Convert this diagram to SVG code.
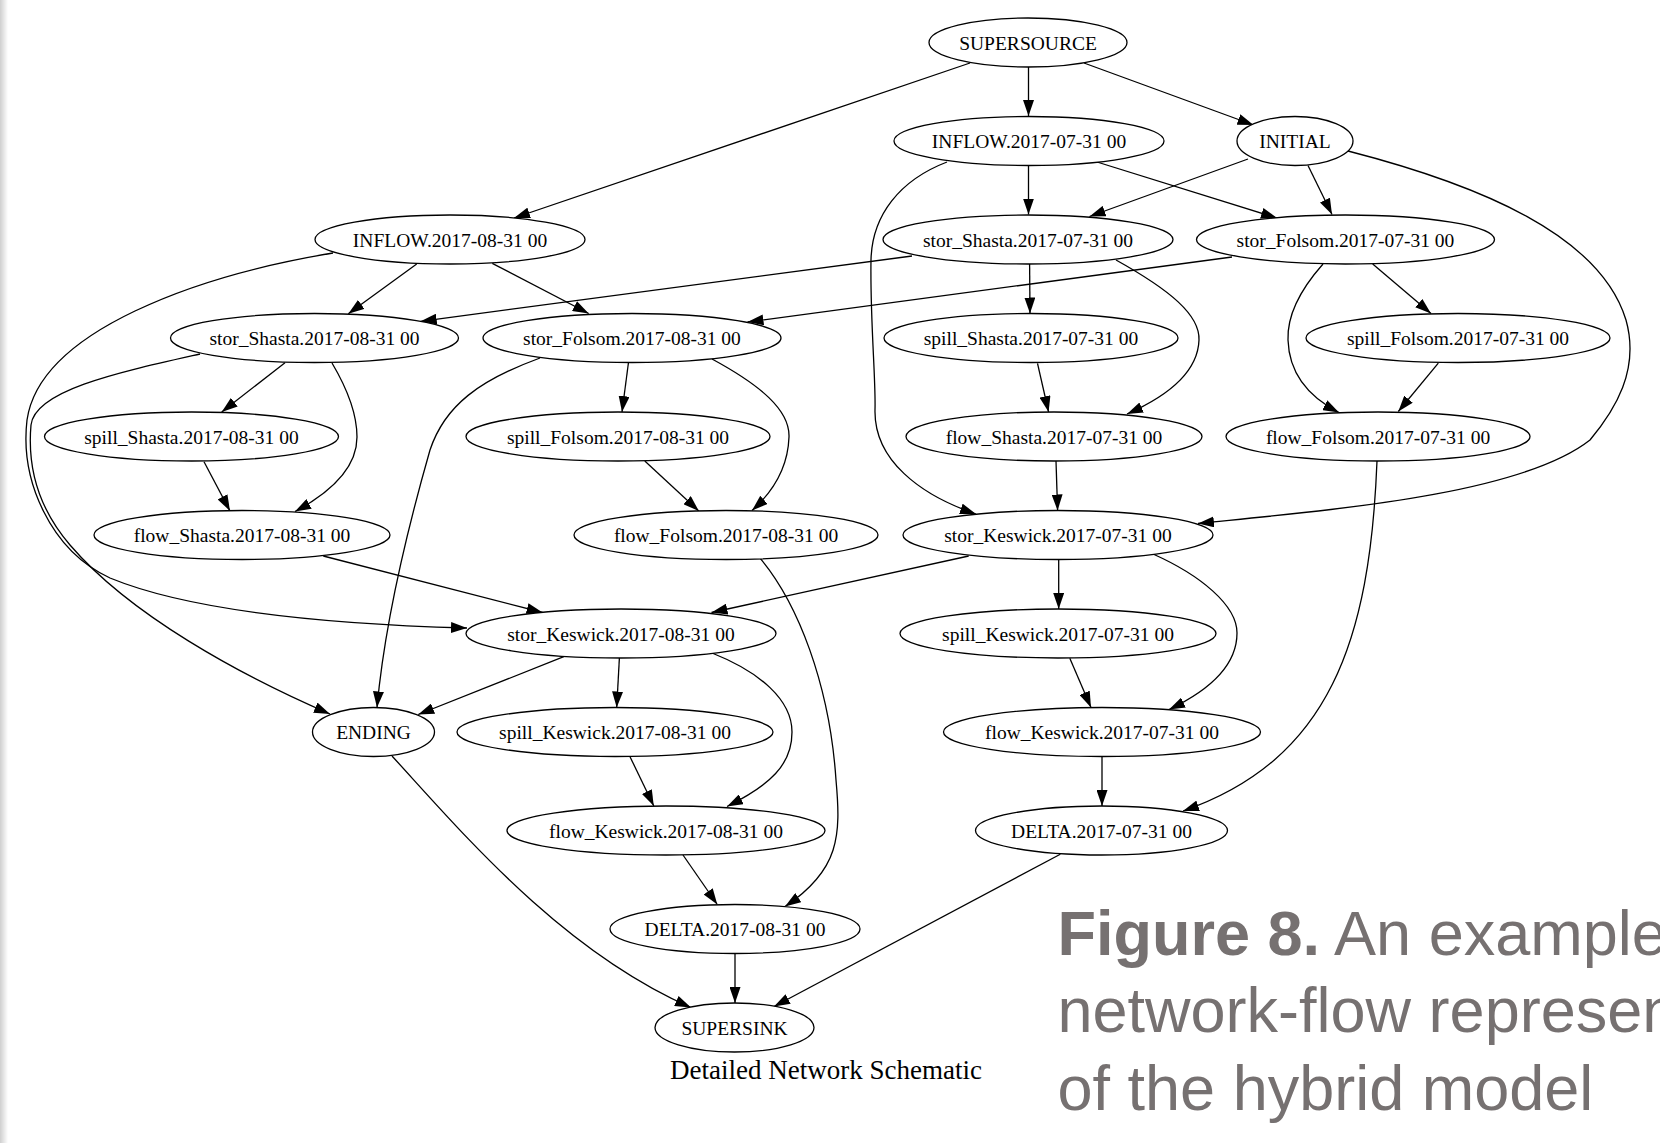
<svg xmlns="http://www.w3.org/2000/svg" width="1660" height="1143" viewBox="0 0 1660 1143">
<defs>
<style>
.n ellipse{fill:#fff;stroke:#000;stroke-width:1.3}
.n text{font-family:"Liberation Serif","Times New Roman",serif;font-size:19.5px;text-anchor:middle;fill:#000}
.e path{fill:none;stroke:#000;stroke-width:1.3;marker-end:url(#ah)}
.cap{font-family:"Liberation Sans",Arial,sans-serif;font-size:63px;fill:#767171}
</style>
<marker id="ah" markerUnits="userSpaceOnUse" markerWidth="16" markerHeight="11" viewBox="0 0 16 11" refX="16" refY="5.5" orient="auto"><path d="M0,0 L16,5.5 L0,11 z" fill="#000"/></marker>
<linearGradient id="sh" x1="0" y1="0" x2="1" y2="0"><stop offset="0" stop-color="#cfcfcf"/><stop offset="1" stop-color="#ffffff"/></linearGradient>
</defs>
<rect width="1660" height="1143" fill="#fff"/>
<rect x="0" y="0" width="8" height="1143" fill="url(#sh)"/>

<g id="connectors" class="e">
<path d="M970,63 L514,218"/>
<path d="M1028.5,67 L1028.5,116"/>
<path d="M1084,63 L1253.5,125"/>
<path d="M1028.5,165.5 L1028.5,214.5"/>
<path d="M1097,162 L1277,218"/>
<path d="M1248,159 L1089.5,216.5"/>
<path d="M1308,165.5 L1332,214.5"/>
<path d="M1348,151 C1480,185 1600,235 1626,320 C1640,370 1615,410 1590,440 C1520,495 1330,510 1198,523.5"/>
<path d="M947,162 C900,180 872,215 871,260 C870,320 876,380 875,410 C874,460 920,495 976,514"/>
<path d="M416.7,264 L348.3,313.8"/>
<path d="M492.3,263.3 L588.7,313.5"/>
<path d="M333,253 C200,275 40,330 27,420 C20,480 50,550 110,578 C200,615 360,625 467,628"/>
<path d="M912,256 L420.7,321.3"/>
<path d="M1029.6,264 L1030,313.5"/>
<path d="M1116,260 C1170,290 1200,315 1199,340 C1198,370 1170,395 1127,414"/>
<path d="M1232,257 L747.5,322"/>
<path d="M1372.7,264 L1431,313.5"/>
<path d="M1323,264 C1300,290 1287,315 1288,340 C1289,370 1305,395 1339,412.5"/>
<path d="M1037.5,363.3 L1048.6,412"/>
<path d="M1438.3,363.2 L1398.3,411.5"/>
<path d="M1056,461 L1057.6,510.5"/>
<path d="M1377,461 C1370,640 1330,760 1183,811"/>
<path d="M968.7,556 L711.5,612.5"/>
<path d="M1058.7,560 L1058.7,609"/>
<path d="M1153,554 C1200,575 1237,605 1237,633 C1237,665 1210,690 1169,709.5"/>
<path d="M1069.8,658.3 L1091,707.5"/>
<path d="M1102,756.5 L1102,806"/>
<path d="M1060.3,854.3 L774,1006.5"/>
<path d="M285,362.7 L221.7,412"/>
<path d="M332,363 C348,390 357,415 357,437 C357,465 335,490 295,511.5"/>
<path d="M200,354 C120,372 35,390 31,425 C27,470 40,510 70,545 C130,615 240,675 330,714"/>
<path d="M628.4,363 L622,412"/>
<path d="M712,359 C760,385 790,410 789,437 C788,465 775,490 752,510.5"/>
<path d="M540,358 C480,380 445,405 430,450 C410,520 385,620 377,707.5"/>
<path d="M204,461.7 L230,511"/>
<path d="M644.8,461 L698.8,511"/>
<path d="M752,549 C800,600 830,690 836,780 C841,835 840,870 785,906.5"/>
<path d="M323.3,556 L542.6,612.5"/>
<path d="M563.8,656.7 L418.2,714.5"/>
<path d="M619.4,657.7 L616.7,707.5"/>
<path d="M712,653 C760,672 792,700 792,732 C792,765 770,785 727,806.5"/>
<path d="M630,756.7 L653.8,806"/>
<path d="M683,855 L717.3,904.5"/>
<path d="M735,953.5 L735,1003"/>
<path d="M392,756 C460,830 560,950 691,1007.5"/>
</g>

<g id="SUPERSOURCE" class="n"><ellipse cx="1028" cy="42.5" rx="99" ry="24.5"/><text x="1028" y="49.5">SUPERSOURCE</text></g>
<g id="INFLOW_0731" class="n"><ellipse cx="1029" cy="141" rx="135" ry="24.5"/><text x="1029" y="148">INFLOW.2017-07-31 00</text></g>
<g id="INITIAL" class="n"><ellipse cx="1295" cy="141" rx="58" ry="24.5"/><text x="1295" y="148">INITIAL</text></g>
<g id="INFLOW_0831" class="n"><ellipse cx="450" cy="239.5" rx="135" ry="24.5"/><text x="450" y="246.5">INFLOW.2017-08-31 00</text></g>
<g id="stor_Shasta_0731" class="n"><ellipse cx="1028" cy="239.5" rx="145" ry="24.5"/><text x="1028" y="246.5">stor_Shasta.2017-07-31 00</text></g>
<g id="stor_Folsom_0731" class="n"><ellipse cx="1345.5" cy="239.5" rx="149" ry="24.5"/><text x="1345.5" y="246.5">stor_Folsom.2017-07-31 00</text></g>
<g id="stor_Shasta_0831" class="n"><ellipse cx="314.5" cy="338" rx="144" ry="24.5"/><text x="314.5" y="345">stor_Shasta.2017-08-31 00</text></g>
<g id="stor_Folsom_0831" class="n"><ellipse cx="632" cy="338" rx="149" ry="24.5"/><text x="632" y="345">stor_Folsom.2017-08-31 00</text></g>
<g id="spill_Shasta_0731" class="n"><ellipse cx="1031" cy="338" rx="147" ry="24.5"/><text x="1031" y="345">spill_Shasta.2017-07-31 00</text></g>
<g id="spill_Folsom_0731" class="n"><ellipse cx="1458" cy="338" rx="152" ry="24.5"/><text x="1458" y="345">spill_Folsom.2017-07-31 00</text></g>
<g id="spill_Shasta_0831" class="n"><ellipse cx="191.5" cy="436.5" rx="147" ry="24.5"/><text x="191.5" y="443.5">spill_Shasta.2017-08-31 00</text></g>
<g id="spill_Folsom_0831" class="n"><ellipse cx="618" cy="436.5" rx="152" ry="24.5"/><text x="618" y="443.5">spill_Folsom.2017-08-31 00</text></g>
<g id="flow_Shasta_0731" class="n"><ellipse cx="1054" cy="436.5" rx="148" ry="24.5"/><text x="1054" y="443.5">flow_Shasta.2017-07-31 00</text></g>
<g id="flow_Folsom_0731" class="n"><ellipse cx="1378" cy="436.5" rx="152" ry="24.5"/><text x="1378" y="443.5">flow_Folsom.2017-07-31 00</text></g>
<g id="flow_Shasta_0831" class="n"><ellipse cx="242" cy="535" rx="148" ry="24.5"/><text x="242" y="542">flow_Shasta.2017-08-31 00</text></g>
<g id="flow_Folsom_0831" class="n"><ellipse cx="726" cy="535" rx="152" ry="24.5"/><text x="726" y="542">flow_Folsom.2017-08-31 00</text></g>
<g id="stor_Keswick_0731" class="n"><ellipse cx="1058" cy="535" rx="155" ry="24.5"/><text x="1058" y="542">stor_Keswick.2017-07-31 00</text></g>
<g id="stor_Keswick_0831" class="n"><ellipse cx="621" cy="633.5" rx="155" ry="24.5"/><text x="621" y="640.5">stor_Keswick.2017-08-31 00</text></g>
<g id="spill_Keswick_0731" class="n"><ellipse cx="1058" cy="633.5" rx="158" ry="24.5"/><text x="1058" y="640.5">spill_Keswick.2017-07-31 00</text></g>
<g id="ENDING" class="n"><ellipse cx="373.5" cy="732" rx="61" ry="24.5"/><text x="373.5" y="739">ENDING</text></g>
<g id="spill_Keswick_0831" class="n"><ellipse cx="615" cy="732" rx="158" ry="24.5"/><text x="615" y="739">spill_Keswick.2017-08-31 00</text></g>
<g id="flow_Keswick_0731" class="n"><ellipse cx="1102" cy="732" rx="158.5" ry="24.5"/><text x="1102" y="739">flow_Keswick.2017-07-31 00</text></g>
<g id="flow_Keswick_0831" class="n"><ellipse cx="666" cy="830.5" rx="159" ry="24.5"/><text x="666" y="837.5">flow_Keswick.2017-08-31 00</text></g>
<g id="DELTA_0731" class="n"><ellipse cx="1101.5" cy="830.5" rx="126" ry="24.5"/><text x="1101.5" y="837.5">DELTA.2017-07-31 00</text></g>
<g id="DELTA_0831" class="n"><ellipse cx="735" cy="929" rx="125" ry="24.5"/><text x="735" y="936">DELTA.2017-08-31 00</text></g>
<g id="SUPERSINK" class="n"><ellipse cx="734.5" cy="1027.5" rx="79.5" ry="24.5"/><text x="734.5" y="1034.5">SUPERSINK</text></g>

<text x="670" y="1079" font-family="'Liberation Serif','Times New Roman',serif" font-size="27" fill="#000">Detailed Network Schematic</text>

<g id="caption">
<text class="cap" x="1057.5" y="955"><tspan font-weight="bold">Figure 8.</tspan> An example</text>
<text class="cap" x="1057.5" y="1032">network-flow represen</text>
<text class="cap" x="1057.5" y="1109.5">of the hybrid model</text>
</g>
</svg>
